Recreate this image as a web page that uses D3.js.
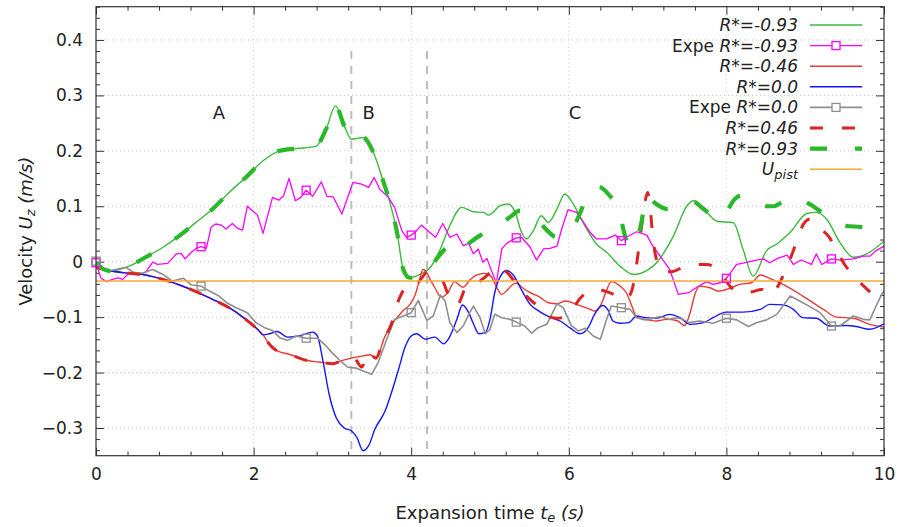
<!DOCTYPE html>
<html>
<head>
<meta charset="utf-8">
<script src="https://cdn.jsdelivr.net/npm/d3@7"></script>
<style>
  html, body { margin: 0; padding: 0; background: #fff; }
  svg { display: block; font-family: "DejaVu Sans", sans-serif; }
</style>
</head>
<body>
<svg id="chart" width="902" height="527"></svg>
<script>
// ---------------- DATA ----------------
// R*=-0.93 (simulation, green solid)
const tGreen = [0,0.1,0.19,0.3,0.42,0.63,0.85,1.06,1.27,1.48,1.69,1.9,2.12,2.33,2.54,2.79,2.92,3.04,3.15,3.24,3.39,3.52,3.65,3.73,3.82,3.9,3.98,4.11,4.24,4.37,4.49,4.64,4.79,4.92,4.98,5.13,5.23,5.32,5.4,5.46,5.55,5.65,5.74,5.85,5.95,6.04,6.18,6.35,6.48,6.65,6.82,7.07,7.33,7.5,7.58,7.75,7.88,8.09,8.21,8.34,8.51,8.64,8.81,9.02,9.14,9.27,9.44,9.61,9.78,10];
const vGreen = [-0.002,-0.014,-0.017,-0.014,-0.008,0.008,0.026,0.047,0.071,0.095,0.125,0.152,0.182,0.2,0.204,0.208,0.239,0.281,0.245,0.221,0.224,0.197,0.143,0.107,0.053,-0.014,-0.029,-0.023,-0.011,0.023,0.065,0.098,0.09,0.089,0.084,0.101,0.104,0.089,0.053,0.041,0.056,0.083,0.071,0.095,0.122,0.108,0.071,0.032,0.017,-0.008,-0.023,-0.008,0.047,0.101,0.11,0.089,0.073,0.07,0.023,-0.026,0.02,0.032,0.053,0.087,0.089,0.077,0.035,0.008,0.014,0.037];

// Expe R*=-0.93 (experiment, magenta)
const tExpeA = [0,0.06,0.13,0.21,0.28,0.34,0.4,0.47,0.55,0.63,0.72,0.78,0.91,1.02,1.08,1.13,1.21,1.27,1.333,1.4,1.46,1.52,1.59,1.65,1.73,1.8,1.86,1.92,2.05,2.12,2.24,2.32,2.38,2.45,2.53,2.6,2.667,2.75,2.86,2.93,3.01,3.12,3.26,3.37,3.46,3.53,3.6,3.71,3.79,3.88,3.94,4.0,4.05,4.13,4.21,4.31,4.4,4.49,4.58,4.66,4.73,4.79,4.85,4.91,4.96,5.02,5.08,5.15,5.21,5.27,5.333,5.4,5.51,5.59,5.68,5.76,5.85,5.91,5.99,6.1,6.16,6.27,6.35,6.48,6.59,6.667,6.73,6.86,6.99,7.05,7.16,7.28,7.39,7.52,7.65,7.75,7.83,7.92,8.0,8.13,8.23,8.35,8.47,8.55,8.65,8.77,8.85,8.95,9.08,9.14,9.21,9.333,9.45,9.61,9.74,9.82,9.9,10];
const vExpeA = [-0.002,-0.029,-0.036,-0.032,-0.029,-0.032,-0.023,-0.019,-0.023,-0.019,-0.001,-0.005,-0.003,0.014,0.015,0.005,0.017,0.024,0.027,0.024,0.062,0.068,0.066,0.059,0.069,0.06,0.057,0.1,0.084,0.051,0.116,0.111,0.119,0.15,0.11,0.116,0.129,0.118,0.144,0.118,0.117,0.086,0.143,0.14,0.134,0.152,0.131,0.116,0.098,0.056,0.044,0.048,0.053,0.066,0.056,0.044,0.069,0.044,0.05,0.029,0.033,0.014,0.023,-0.001,0.006,-0.017,-0.038,0.023,0.033,0.038,0.043,0.044,0.026,0.003,0.023,0.024,0.028,0.059,0.094,0.089,0.077,0.053,0.041,0.041,0.048,0.038,0.044,0.054,0.048,0.032,0.01,-0.014,-0.059,-0.056,-0.044,-0.036,-0.041,-0.038,-0.03,-0.005,-0.002,0.002,0.005,-0.002,0.006,0.012,-0.005,0.003,-0.005,0.014,-0.005,0.005,0.003,0.005,0.01,0.01,0.02,0.028];

// R*=-0.46 (simulation, red solid)
const tRedA = [0,0.13,0.42,0.63,0.85,1.06,1.27,1.48,1.69,1.9,2.05,2.12,2.2,2.3,2.45,2.67,2.83,3.0,3.13,3.27,3.39,3.47,3.56,3.66,3.75,3.82,3.9,3.98,4.05,4.09,4.15,4.19,4.24,4.3,4.38,4.47,4.55,4.6,4.66,4.75,4.83,4.93,5.01,5.08,5.15,5.22,5.3,5.34,5.42,5.51,5.62,5.74,5.85,5.96,6.1,6.27,6.33,6.41,6.47,6.54,6.65,6.73,6.8,6.86,6.97,7.11,7.24,7.37,7.47,7.54,7.6,7.66,7.79,7.9,8.04,8.17,8.32,8.43,8.55,8.72,8.97,9.23,9.4,9.61,9.82,10];
const vRedA = [-0.01,-0.015,-0.021,-0.024,-0.032,-0.042,-0.054,-0.068,-0.083,-0.104,-0.122,-0.132,-0.149,-0.161,-0.167,-0.178,-0.181,-0.184,-0.178,-0.173,-0.17,-0.168,-0.173,-0.137,-0.113,-0.101,-0.088,-0.078,-0.06,-0.041,-0.014,-0.018,-0.032,-0.047,-0.064,-0.055,-0.036,-0.041,-0.046,-0.032,-0.024,-0.021,-0.026,-0.045,-0.059,-0.051,-0.04,-0.039,-0.048,-0.056,-0.063,-0.074,-0.076,-0.071,-0.077,-0.086,-0.089,-0.077,-0.055,-0.036,-0.044,-0.056,-0.08,-0.1,-0.104,-0.107,-0.104,-0.106,-0.115,-0.092,-0.059,-0.044,-0.047,-0.053,-0.048,-0.041,-0.038,-0.024,-0.03,-0.041,-0.062,-0.086,-0.1,-0.102,-0.113,-0.118];

// R*=0.0 (simulation, blue)
const tBlue = [0,0.13,0.42,0.63,0.85,1.06,1.27,1.48,1.69,1.9,2.05,2.12,2.2,2.3,2.43,2.58,2.75,2.81,2.88,2.96,3.05,3.15,3.24,3.31,3.39,3.46,3.54,3.67,3.75,3.84,3.92,4.0,4.07,4.18,4.3,4.41,4.47,4.58,4.65,4.73,4.79,4.86,4.94,5.0,5.06,5.13,5.21,5.3,5.4,5.51,5.63,5.76,5.89,6.02,6.14,6.25,6.33,6.43,6.5,6.56,6.65,6.76,6.86,6.97,7.11,7.28,7.41,7.54,7.71,7.83,8.0,8.21,8.43,8.55,8.72,8.85,8.97,9.14,9.31,9.53,9.65,9.82,10];
const vBlue = [-0.01,-0.015,-0.021,-0.024,-0.032,-0.042,-0.054,-0.068,-0.083,-0.104,-0.122,-0.132,-0.13,-0.126,-0.136,-0.134,-0.127,-0.134,-0.179,-0.24,-0.282,-0.3,-0.305,-0.317,-0.341,-0.332,-0.302,-0.269,-0.236,-0.194,-0.155,-0.134,-0.13,-0.14,-0.136,-0.148,-0.14,-0.104,-0.078,-0.092,-0.112,-0.13,-0.128,-0.104,-0.056,-0.027,-0.016,-0.025,-0.051,-0.077,-0.09,-0.1,-0.107,-0.12,-0.13,-0.118,-0.094,-0.079,-0.088,-0.107,-0.111,-0.11,-0.098,-0.101,-0.102,-0.095,-0.101,-0.113,-0.11,-0.101,-0.091,-0.091,-0.086,-0.077,-0.078,-0.086,-0.101,-0.102,-0.116,-0.115,-0.117,-0.122,-0.112];

// Expe R*=0.0 (experiment, grey)
const tExpeB = [0,0.06,0.15,0.25,0.38,0.47,0.59,0.72,0.85,0.97,1.11,1.21,1.333,1.44,1.56,1.67,1.78,1.92,2.03,2.14,2.24,2.33,2.43,2.54,2.667,2.81,2.92,3.0,3.11,3.19,3.3,3.39,3.5,3.58,3.69,3.79,3.9,4.0,4.09,4.2,4.28,4.37,4.43,4.49,4.58,4.66,4.73,4.79,4.87,4.94,5.0,5.06,5.15,5.25,5.333,5.44,5.53,5.61,5.72,5.85,5.93,6.03,6.12,6.21,6.31,6.4,6.48,6.54,6.667,6.78,6.86,6.97,7.08,7.16,7.27,7.37,7.45,7.52,7.66,7.83,8.0,8.13,8.28,8.38,8.51,8.64,8.81,8.93,9.06,9.19,9.333,9.44,9.61,9.74,9.82,9.9,9.97,10];
const vExpeB = [0.001,-0.01,-0.017,-0.014,-0.01,-0.019,-0.021,-0.014,-0.023,-0.035,-0.03,-0.042,-0.044,-0.053,-0.062,-0.075,-0.083,-0.092,-0.11,-0.119,-0.124,-0.137,-0.142,-0.134,-0.138,-0.138,-0.152,-0.165,-0.18,-0.19,-0.192,-0.197,-0.203,-0.182,-0.14,-0.104,-0.098,-0.092,-0.07,-0.106,-0.098,-0.06,-0.071,-0.11,-0.128,-0.116,-0.095,-0.08,-0.1,-0.13,-0.122,-0.095,-0.101,-0.104,-0.109,-0.116,-0.129,-0.119,-0.113,-0.076,-0.083,-0.115,-0.125,-0.12,-0.134,-0.14,-0.104,-0.08,-0.083,-0.086,-0.101,-0.105,-0.102,-0.099,-0.104,-0.101,-0.104,-0.11,-0.107,-0.111,-0.102,-0.105,-0.117,-0.11,-0.105,-0.095,-0.062,-0.071,-0.081,-0.092,-0.116,-0.116,-0.098,-0.104,-0.105,-0.08,-0.059,-0.053];

// R*=0.46 (simulation, red dashed)
const tRedB = [0,0.13,0.42,0.63,0.85,1.06,1.27,1.48,1.69,1.9,2.05,2.12,2.2,2.3,2.45,2.67,2.83,3.0,3.13,3.27,3.37,3.46,3.55,3.65,3.73,3.85,3.93,4.02,4.08,4.2,4.32,4.4,4.47,4.54,4.6,4.7,4.8,4.92,5.05,5.13,5.22,5.35,5.45,5.6,5.7,5.85,5.97,6.04,6.15,6.25,6.35,6.5,6.62,6.72,6.8,6.86,6.92,6.97,7.0,7.03,7.07,7.12,7.2,7.3,7.45,7.6,7.75,7.9,8.05,8.15,8.3,8.45,8.55,8.65,8.75,8.85,8.92,9.0,9.06,9.17,9.3,9.4,9.5,9.65,9.75,9.88,10];
const vRedB = [-0.01,-0.015,-0.021,-0.024,-0.032,-0.042,-0.054,-0.068,-0.083,-0.104,-0.122,-0.132,-0.149,-0.161,-0.167,-0.178,-0.181,-0.184,-0.178,-0.173,-0.19,-0.163,-0.174,-0.14,-0.119,-0.066,-0.045,-0.035,-0.037,-0.02,-0.026,-0.035,-0.06,-0.078,-0.075,-0.045,-0.041,-0.03,-0.014,-0.01,-0.02,-0.043,-0.06,-0.08,-0.096,-0.102,-0.098,-0.087,-0.065,-0.054,-0.05,-0.055,-0.062,-0.068,-0.052,-0.005,0.06,0.11,0.125,0.1,0.04,0.0,-0.018,-0.018,-0.01,-0.005,-0.005,-0.016,-0.045,-0.056,-0.055,-0.05,-0.06,-0.045,-0.015,0.02,0.05,0.072,0.077,0.062,0.045,0.02,-0.005,-0.03,-0.045,-0.058,-0.05];

// R*=0.93 (simulation, green dashed)
const tGreenB = [0,0.1,0.19,0.3,0.42,0.63,0.85,1.06,1.27,1.48,1.69,1.9,2.12,2.33,2.54,2.79,2.92,3.04,3.15,3.24,3.39,3.52,3.65,3.73,3.82,3.9,3.98,4.11,4.24,4.35,4.47,4.55,4.62,4.75,4.94,5.11,5.25,5.38,5.57,5.7,5.85,6.04,6.15,6.25,6.38,6.52,6.63,6.73,6.84,6.92,6.99,7.1,7.25,7.35,7.45,7.58,7.71,7.9,8.0,8.1,8.2,8.34,8.5,8.6,8.7,8.85,9.0,9.1,9.21,9.36,9.5,9.74,9.95,10];
const vGreenB = [-0.002,-0.014,-0.017,-0.014,-0.008,0.008,0.026,0.047,0.071,0.095,0.125,0.152,0.182,0.2,0.204,0.208,0.239,0.281,0.245,0.221,0.224,0.197,0.143,0.107,0.053,-0.014,-0.029,-0.023,-0.011,0.01,0.026,0.017,0.019,0.035,0.053,0.065,0.08,0.092,0.083,0.06,0.044,0.059,0.09,0.125,0.135,0.119,0.095,0.04,0.026,0.07,0.119,0.105,0.095,0.098,0.104,0.108,0.095,0.077,0.09,0.112,0.12,0.113,0.1,0.1,0.107,0.116,0.108,0.1,0.089,0.074,0.065,0.062,0.05,0.048];

// U_pist (orange)
const tPist = [0, 10];
const vPist = [-0.035, -0.035];

// marker times for experimental series
const markerT = [0, 1.333, 2.667, 4.0, 5.333, 6.667, 8.0, 9.333];

// phase separators and labels
const phaseT = [3.24, 4.2];
const phaseLabels = ["A", "B", "C"];
const phaseLabelT = [1.56, 3.46, 6.08];
const phaseLabelV = [0.27, 0.27, 0.27];

// axes ticks
const xMajor = [0, 2, 4, 6, 8, 10];
const xMinor = [0.4,0.8,1.2,1.6,2.4,2.8,3.2,3.6,4.4,4.8,5.2,5.6,6.4,6.8,7.2,7.6,8.4,8.8,9.2,9.6];
const yMajor = [-0.3, -0.2, -0.1, 0, 0.1, 0.2, 0.3, 0.4];
const yMinorStep = 0.02;

// legend
const legendNames = ["R*=-0.93", "R*=-0.93", "R*=-0.46", "R*=0.0", "R*=0.0", "R*=0.46", "R*=0.93", "U"];
const legendPrefix = ["", "Expe ", "", "", "Expe ", "", "", ""];

// ---------------- DRAWING ----------------
const svg = d3.select("#chart");
const W = 902, H = 527;
const L = 96, R = 884, T = 6.7, B = 455.7;
const x = d3.scaleLinear().domain([0, 10]).range([L, R]);
const y = d3.scaleLinear().domain([-0.35, 0.46]).range([B, T]);
const axisColor = "#333";

svg.append("rect").attr("width", W).attr("height", H).attr("fill", "#fff");

// grid
const grid = svg.append("g").attr("stroke", "#c8c8c8").attr("stroke-width", 1).attr("stroke-dasharray", "1,3");
xMajor.filter(d => d > 0 && d < 10).forEach(d => {
  grid.append("line").attr("x1", x(d)).attr("x2", x(d)).attr("y1", T).attr("y2", B);
});
yMajor.forEach(d => {
  grid.append("line").attr("x1", L).attr("x2", R).attr("y1", y(d)).attr("y2", y(d));
});

// y minor tick values
const yMinor = d3.range(-0.34, 0.461, yMinorStep).map(v => Math.round(v * 100) / 100)
  .filter(v => !yMajor.some(m => Math.abs(m - v) < 1e-6));

function styleAxis(g) {
  g.select(".domain").remove();
  g.selectAll(".tick line").attr("stroke", axisColor).attr("stroke-width", 1);
  g.selectAll("text").attr("fill", "#222").attr("font-size", 17).attr("font-family", "DejaVu Sans, sans-serif");
}

// bottom axis
svg.append("g").attr("transform", `translate(0,${B})`)
  .call(d3.axisBottom(x).tickValues(xMajor).tickSize(-8).tickPadding(12).tickFormat(d3.format("d")))
  .call(styleAxis);
svg.append("g").attr("transform", `translate(0,${B})`)
  .call(d3.axisBottom(x).tickValues(xMinor).tickSize(-4).tickFormat(""))
  .call(styleAxis);
// top axis (mirror)
svg.append("g").attr("transform", `translate(0,${T})`)
  .call(d3.axisTop(x).tickValues(xMajor).tickSize(-8).tickFormat(""))
  .call(styleAxis);
svg.append("g").attr("transform", `translate(0,${T})`)
  .call(d3.axisTop(x).tickValues(xMinor).tickSize(-4).tickFormat(""))
  .call(styleAxis);
// left axis
svg.append("g").attr("transform", `translate(${L},0)`)
  .call(d3.axisLeft(y).tickValues(yMajor).tickSize(-8).tickPadding(13).tickFormat(d => d === 0 ? "0" : d3.format(".1f")(d)))
  .call(styleAxis);
svg.append("g").attr("transform", `translate(${L},0)`)
  .call(d3.axisLeft(y).tickValues(yMinor).tickSize(-4).tickFormat(""))
  .call(styleAxis);
// right axis (mirror)
svg.append("g").attr("transform", `translate(${R},0)`)
  .call(d3.axisRight(y).tickValues(yMajor).tickSize(-8).tickFormat(""))
  .call(styleAxis);
svg.append("g").attr("transform", `translate(${R},0)`)
  .call(d3.axisRight(y).tickValues(yMinor).tickSize(-4).tickFormat(""))
  .call(styleAxis);

// phase separators
phaseT.forEach(t => {
  svg.append("line").attr("x1", x(t)).attr("x2", x(t)).attr("y1", y(0.38)).attr("y2", B)
    .attr("stroke", "#bdbdbd").attr("stroke-width", 2).attr("stroke-dasharray", "8,7");
});
phaseLabels.forEach((s, i) => {
  svg.append("text").attr("x", x(phaseLabelT[i])).attr("y", y(phaseLabelV[i]))
    .attr("text-anchor", "middle").attr("dominant-baseline", "central")
    .attr("font-size", 18).attr("fill", "#222").text(s);
});

// clip
svg.append("clipPath").attr("id", "plotclip").append("rect")
  .attr("x", L).attr("y", T).attr("width", R - L).attr("height", B - T);
const plot = svg.append("g").attr("clip-path", "url(#plotclip)");

const smooth = d3.line().x(d => x(d[0])).y(d => y(d[1])).curve(d3.curveMonotoneX);
const linear = d3.line().x(d => x(d[0])).y(d => y(d[1]));
const zip = (a, b) => a.map((t, i) => [t, b[i]]);

const series = [
  { t: tGreen, v: vGreen, color: "#3cb93c", w: 1.4, dash: null, gen: smooth },
  { t: tExpeA, v: vExpeA, color: "#ff00ff", w: 1.3, dash: null, gen: linear, marker: true },
  { t: tRedA, v: vRedA, color: "#e83a33", w: 1.4, dash: null, gen: smooth },
  { t: tBlue, v: vBlue, color: "#1414ff", w: 1.4, dash: null, gen: smooth },
  { t: tExpeB, v: vExpeB, color: "#8e8e8e", w: 1.6, dash: null, gen: linear, marker: true },
  { t: tRedB, v: vRedB, color: "#dd2222", w: 3, dash: "13,19", gen: smooth },
  { t: tGreenB, v: vGreenB, color: "#28b828", w: 4.2, dash: "17,28", gen: smooth },
  { t: tPist, v: vPist, color: "#f5aa33", w: 1.5, dash: null, gen: linear }
];

series.forEach(s => {
  const data = zip(s.t, s.v);
  plot.append("path").attr("d", s.gen(data)).attr("fill", "none")
    .attr("stroke", s.color).attr("stroke-width", s.w)
    .attr("stroke-dasharray", s.dash).attr("stroke-linejoin", "round");
  if (s.marker) {
    const pts = markerT.map(mt => data.reduce((a, b) => Math.abs(b[0] - mt) < Math.abs(a[0] - mt) ? b : a));
    svg.append("g").selectAll("rect").data(pts).join("rect")
      .attr("x", d => x(d[0]) - 4).attr("y", d => y(d[1]) - 4)
      .attr("width", 8).attr("height", 8)
      .attr("fill", "none").attr("stroke", s.color).attr("stroke-width", 1.3);
  }
});

// frame
svg.append("rect").attr("x", L).attr("y", T).attr("width", R - L).attr("height", B - T)
  .attr("fill", "none").attr("stroke", axisColor).attr("stroke-width", 1.2);

// axis titles
const yt = svg.append("text").attr("transform", `translate(25,${(T + B) / 2}) rotate(-90)`)
  .attr("text-anchor", "middle").attr("dominant-baseline", "central")
  .attr("font-size", 18).attr("fill", "#222");
yt.append("tspan").text("Velocity ");
yt.append("tspan").attr("font-style", "italic").text("U");
yt.append("tspan").attr("font-style", "italic").attr("font-size", 13).attr("dy", "0.35em").text("z");
yt.append("tspan").attr("font-style", "italic").attr("dy", "-0.28em").text(" (m/s)");

const xt = svg.append("text").attr("x", (L + R) / 2).attr("y", 512)
  .attr("text-anchor", "middle").attr("dominant-baseline", "central")
  .attr("font-size", 18).attr("fill", "#222");
xt.append("tspan").text("Expansion time ");
xt.append("tspan").attr("font-style", "italic").text("t");
xt.append("tspan").attr("font-style", "italic").attr("font-size", 13).attr("dy", "0.35em").text("e");
xt.append("tspan").attr("font-style", "italic").attr("dy", "-0.28em").text(" (s)");

// legend
const legY0 = 25, legDy = 20.6, legTextX = 798, legX1 = 810, legX2 = 862;
series.forEach((s, i) => {
  const yy = legY0 + i * legDy;
  const tx = svg.append("text").attr("x", legTextX).attr("y", yy).attr("text-anchor", "end")
    .attr("dominant-baseline", "central").attr("font-size", 17).attr("fill", "#222");
  if (legendPrefix[i]) tx.append("tspan").text(legendPrefix[i]);
  if (i === 7) {
    tx.append("tspan").attr("font-style", "italic").text(legendNames[i]);
    tx.append("tspan").attr("font-style", "italic").attr("font-size", 13).attr("dy", "0.4em").text("pist");
  } else {
    tx.append("tspan").attr("font-style", "italic").text(legendNames[i]);
  }
  svg.append("line").attr("x1", legX1).attr("x2", legX2).attr("y1", yy).attr("y2", yy)
    .attr("stroke", s.color).attr("stroke-width", s.w).attr("stroke-dasharray", s.dash);
  if (s.marker) {
    svg.append("rect").attr("x", (legX1 + legX2) / 2 - 4).attr("y", yy - 4).attr("width", 8).attr("height", 8)
      .attr("fill", "#fff").attr("stroke", s.color).attr("stroke-width", 1.3);
  }
});
</script>
</body>
</html>
